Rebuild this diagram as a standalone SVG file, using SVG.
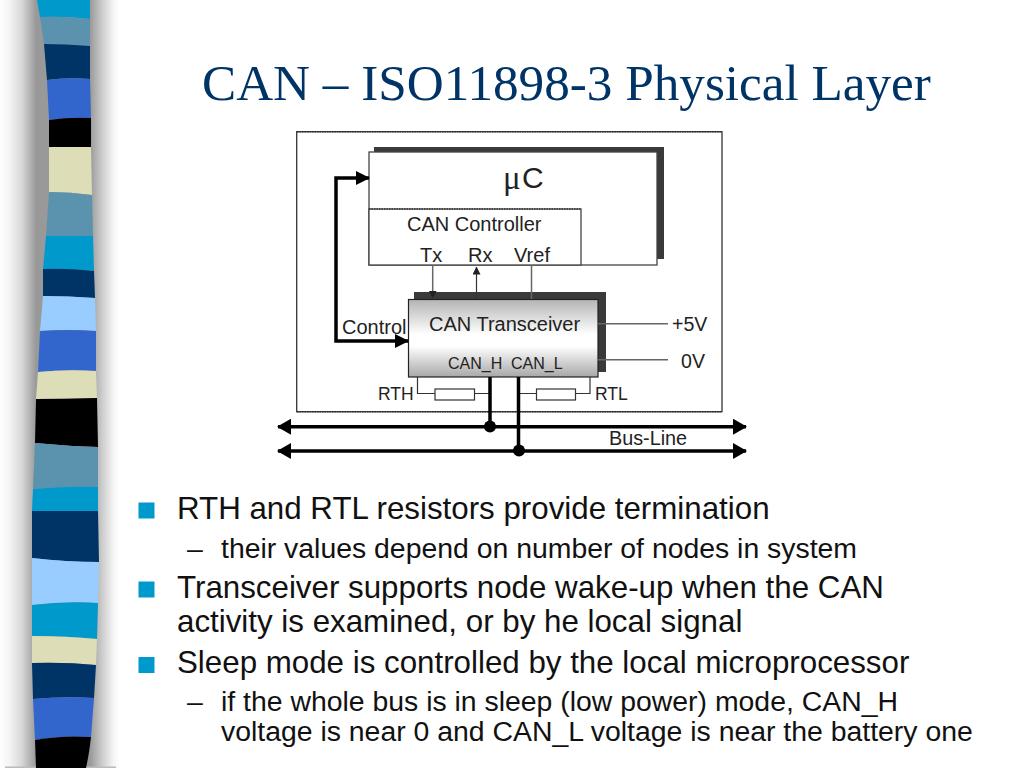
<svg xmlns="http://www.w3.org/2000/svg" width="1024" height="768" viewBox="0 0 1024 768">
<style>
.t{font-family:"Liberation Sans",Arial,sans-serif;fill:#222}
.b{font-family:"Liberation Sans",Arial,sans-serif;fill:#111;font-size:31.3px}
.s{font-family:"Liberation Sans",Arial,sans-serif;fill:#111;font-size:28.4px}
.box{fill:#fff;stroke:#444;stroke-width:1.3}
.sh{fill:#3a3a3a}
.th{fill:none;stroke:#000;stroke-width:3.5}
.bus{fill:none;stroke:#000;stroke-width:3.5;marker-start:url(#ae);marker-end:url(#ae)}
.thin{fill:none;stroke:#333;stroke-width:1.2}
.gl{fill:none;stroke:#666;stroke-width:1.5}
.bu{fill:#0099cc}
</style>
<defs>
<linearGradient id="side" x1="0" x2="1" y1="0" y2="0">
<stop offset="0" stop-color="#fff"/><stop offset="0.08" stop-color="#f4f4f4"/><stop offset="0.18" stop-color="#d8d8d8"/><stop offset="0.3" stop-color="#999"/><stop offset="0.75" stop-color="#999"/><stop offset="0.85" stop-color="#ccc"/><stop offset="0.95" stop-color="#f6f6f6"/><stop offset="1" stop-color="#fff"/>
</linearGradient>
<linearGradient id="tr" x1="0" x2="0" y1="0" y2="1">
<stop offset="0" stop-color="#b4b4b4"/><stop offset="0.45" stop-color="#fff"/><stop offset="0.6" stop-color="#fff"/><stop offset="1" stop-color="#a8a8a8"/>
</linearGradient>
<marker id="ae" markerUnits="userSpaceOnUse" markerWidth="14" markerHeight="16" refX="13" refY="8" orient="auto-start-reverse"><path d="M0 0L14 8L0 16Z" fill="#000"/></marker>
<marker id="ac" markerUnits="userSpaceOnUse" markerWidth="14" markerHeight="14" refX="13" refY="7" orient="auto-start-reverse"><path d="M0 0L14 7L0 14Z" fill="#000"/></marker>
<marker id="as" markerUnits="userSpaceOnUse" markerWidth="8" markerHeight="9" refX="7.5" refY="4" orient="auto"><path d="M0 0L8 4L0 8Z" fill="#222"/></marker>
</defs>
<rect width="1024" height="768" fill="#fff"/>
<g id="ribbon">
<rect x="0" y="0" width="120" height="768" fill="url(#side)"/>
<rect x="5" y="766.5" width="111" height="1.5" fill="#bbb"/>
<path fill="#0099cc" d="M37 0L90 0L90 19Q65 16 40 17Z"/>
<path fill="#5b93ae" d="M40 17Q65 16 90 19L90 46Q67 44 44 44Z"/>
<path fill="#003366" d="M44 44Q67 44 90 46L90 79Q68 77 47 80Z"/>
<path fill="#3366cc" d="M47 80Q68 77 90 79L91 118Q68 117 49 120Z"/>
<path fill="#000" d="M49 120Q68 117 91 118L91 147L49 147Z"/>
<path fill="#ddddb8" d="M49 147L91 147L92 195Q70 192 49 192Z"/>
<path fill="#5b93ae" d="M49 192Q70 192 92 195L93 236L46 236Z"/>
<path fill="#0099cc" d="M46 236L93 236L94 271Q68 268 43 269Z"/>
<path fill="#003366" d="M43 269Q68 268 94 271L95 298Q68 296 43 296Z"/>
<path fill="#99ccff" d="M43 296Q68 296 95 298L96 331Q68 329 40 331Z"/>
<path fill="#3366cc" d="M40 331Q68 329 96 331L96 371Q66 369 38 372Z"/>
<path fill="#ddddb8" d="M38 372Q66 369 96 371L97 398Q66 399 36 399Z"/>
<path fill="#000" d="M36 399Q66 399 97 398L98 447Q66 446 35 443Z"/>
<path fill="#5b93ae" d="M35 443Q66 446 98 447L98 487Q66 486 33 489Z"/>
<path fill="#0099cc" d="M33 489Q66 486 98 487L98 511L32 511Z"/>
<path fill="#003366" d="M32 511L98 511L99 562Q66 562 32 558Z"/>
<path fill="#99ccff" d="M32 558Q66 562 99 562L98 603Q66 601 32 605Z"/>
<path fill="#0099cc" d="M32 605Q66 601 98 603L97 639Q66 636 32 636Z"/>
<path fill="#ddddb8" d="M32 636Q66 636 97 639L96 665Q66 662 32 663Z"/>
<path fill="#003366" d="M32 663Q66 662 96 665L94 698Q64 696 33 699Z"/>
<path fill="#3366cc" d="M33 699Q64 696 94 698L91 737Q62 735 35 740Z"/>
<path fill="#000" d="M35 740Q62 735 91 737Q89 755 86 768L36 768Z"/>
</g>
<text id="title" x="202" y="100" font-family="Liberation Serif,Times New Roman,serif" font-size="51.2" fill="#003366">CAN – ISO11898-3 Physical Layer</text>
<g id="outer"><rect x="296.7" y="131.7" width="425.3" height="280" fill="#fff" stroke="#333" stroke-width="1.3"/>
<path d="M297 131.7H722M297 411.7H722" stroke="#333" stroke-width="1.5" stroke-dasharray="1.5 1" fill="none"/></g>
<g id="uC">
<rect class="sh" x="374" y="147" width="290" height="112"/>
<rect class="box" x="369" y="152" width="288" height="113"/>
<text x="503" y="189" font-family="Liberation Serif,serif" font-size="33" fill="#222">μ</text>
<text x="522" y="188" class="t" font-size="30">C</text>
</g>
<g id="controller">
<rect class="box" x="369" y="209" width="212" height="56"/>
<path d="M369 209H581" stroke="#333" stroke-width="1.5" stroke-dasharray="1.5 1" fill="none"/>
<text x="407" y="230.5" class="t" font-size="20">CAN Controller</text>
<text x="420" y="261.5" class="t" font-size="20">Tx</text>
<text x="468" y="261.5" class="t" font-size="20">Rx</text>
<text x="514" y="261.5" class="t" font-size="20">Vref</text>
</g>
<g id="transceiver">
<rect class="sh" x="414" y="292" width="192" height="80"/>
<rect x="408.5" y="299.5" width="189.5" height="77.5" fill="url(#tr)" stroke="#222" stroke-width="1.2"/>
<text x="429" y="331" class="t" font-size="20">CAN Transceiver</text>
<text x="448" y="369" class="t" font-size="16">CAN_H</text>
<text x="511" y="369" class="t" font-size="16">CAN_L</text>
</g>
<text id="control" x="342" y="334" class="t" font-size="20">Control</text>
<text id="v5" x="672" y="331" class="t" font-size="19.6">+5V</text>
<text id="v0" x="681" y="368" class="t" font-size="19.6">0V</text>
<g id="rth"><rect x="435" y="389" width="39.5" height="11" fill="#fff" stroke="#333" stroke-width="1.2"/><text x="378" y="399.5" class="t" font-size="17.5">RTH</text></g>
<g id="rtl"><rect x="536.5" y="389" width="39" height="11" fill="#fff" stroke="#333" stroke-width="1.2"/><text x="595" y="399.5" class="t" font-size="17.5">RTL</text></g>
<text id="busline" x="609" y="444.5" class="t" font-size="19.8">Bus-Line</text>
<g id="connectors">
<path class="th" d="M369 178H336V341H408" marker-start="url(#ac)" marker-end="url(#ac)"/>
<path class="gl" d="M432.7 265V298" marker-end="url(#as)"/>
<path class="thin" d="M476.5 299V267" marker-end="url(#as)"/>
<path class="gl" d="M531.5 265V299"/>
<path class="gl" d="M598 323.7H668M598 359.7H668"/>
<path class="thin" d="M417.5 377V393.5H435M474.5 393.5H490M519 393.5H536.5M575.5 393.5H590V377"/>
<path class="th" d="M490 377V426M518.5 377V451"/>
<path class="bus" d="M278 426.7H746"/>
<path class="bus" d="M278 451H746"/>
<circle cx="490" cy="426.5" r="6"/>
<circle cx="519" cy="450.5" r="6"/>
</g>
<g id="bullets">
<rect class="bu" x="138.5" y="502.5" width="16" height="16"/>
<rect class="bu" x="138.5" y="581.5" width="16" height="16"/>
<rect class="bu" x="138.5" y="657" width="16" height="16"/>
<text class="b" x="177" y="518.5">RTH and RTL resistors provide termination</text>
<text class="s" x="187" y="557.5">–</text>
<text class="s" x="221" y="557.5">their values depend on number of nodes in system</text>
<text class="b" x="177" y="597.5">Transceiver supports node wake-up when the CAN</text>
<text class="b" x="177" y="631.5">activity is examined, or by he local signal</text>
<text class="b" x="177" y="672.5">Sleep mode is controlled by the local microprocessor</text>
<text class="s" x="187" y="711">–</text>
<text class="s" x="221" y="711">if the whole bus is in sleep (low power) mode, CAN_H</text>
<text class="s" x="221" y="741">voltage is near 0 and CAN_L voltage is near the battery one</text>
</g>
</svg>
